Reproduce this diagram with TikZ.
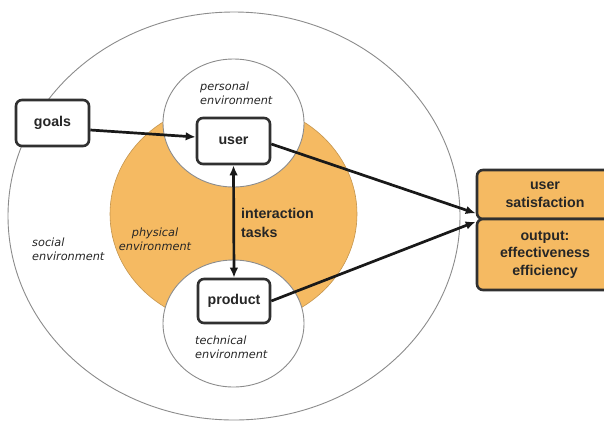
\documentclass[tikz,border=0pt]{standalone}
\usepackage{fontspec}
\setmainfont{Liberation Sans}
\newfontfamily\labfont{DejaVu Sans}
\usetikzlibrary{arrows.meta}
\definecolor{orng}{HTML}{F5BA62}
\definecolor{ringgray}{HTML}{8C8C8C}
\definecolor{boxline}{HTML}{303030}
\begin{document}
\begin{tikzpicture}[x=1pt,y=-1pt,
  ring/.style={draw=ringgray, line width=0.9pt, fill=white},
  wbox/.style={draw=boxline, line width=2.6pt, rounded corners=6pt, fill=white,
    font=\bfseries\fontsize{14.2}{17.5}\selectfont, text=black!85, inner sep=0pt, align=center},
  obox/.style={wbox, fill=orng},
  lab/.style={font=\labfont\itshape\fontsize{11.3}{14}\selectfont, text=black!85, align=left, inner sep=0pt},
  boldlab/.style={font=\bfseries\fontsize{14.2}{19}\selectfont, text=black!85, align=left, inner sep=0pt},
  arr/.style={line width=2.7pt, draw=black!90, -{Latex[length=10pt,width=8.5pt]}},
  darr/.style={line width=2.7pt, draw=black!90, {Latex[length=10pt,width=8.5pt]}-{Latex[length=10pt,width=8.5pt]}}
]
\useasboundingbox (0,0) rectangle (604,421);
\clip (0,0) rectangle (604,421);
\fill[white] (0,0) rectangle (604,421);
\draw[ring] (234,216) ellipse [x radius=226pt, y radius=204pt];
\draw[draw=orng!80!black, line width=0.6pt, fill=orng] (233.5,214) ellipse [x radius=123.5pt, y radius=112pt];
\draw[ring] (233.5,123) ellipse [x radius=70.5pt, y radius=64pt];
\draw[ring] (233.5,323.5) ellipse [x radius=70.5pt, y radius=63.5pt];

\node[wbox, minimum width=73pt, minimum height=46pt] (goals) at (52.5,123) {goals};
\node[wbox, minimum width=73pt, minimum height=46pt] (user) at (233.5,141) {user};
\node[wbox, minimum width=72pt, minimum height=44pt] (product) at (234,301) {product};
\node[obox, minimum width=136pt, minimum height=49pt] (sat) at (545,194.5) {user\\satisfaction};
\node[obox, minimum width=136pt, minimum height=71pt] (out) at (545,254.5) {output:\\effectiveness\\efficiency};

\draw[arr] ([yshift=-7pt]goals.east) -- ([yshift=4pt]user.west);
\draw[arr] ([yshift=-3pt]user.east) -- ([yshift=7pt]sat.south west);
\draw[arr] (product.east) -- ([yshift=-4pt]out.north west);
\draw[darr] (user.south) -- (product.north);

\node[lab, anchor=west] (perslab) at (200,93) {personal\\environment};
\node[lab, anchor=west] (techlab) at (195,347) {technical\\environment};
\node[lab, anchor=west] (soclab) at (32,249.5) {social\\environment};
\node[lab, align=center] (physlab) at (155,239.5) {physical\\environment};
\node[boldlab, anchor=west] (tasklab) at (241,222.5) {interaction\\tasks};
\end{tikzpicture}
\end{document}
